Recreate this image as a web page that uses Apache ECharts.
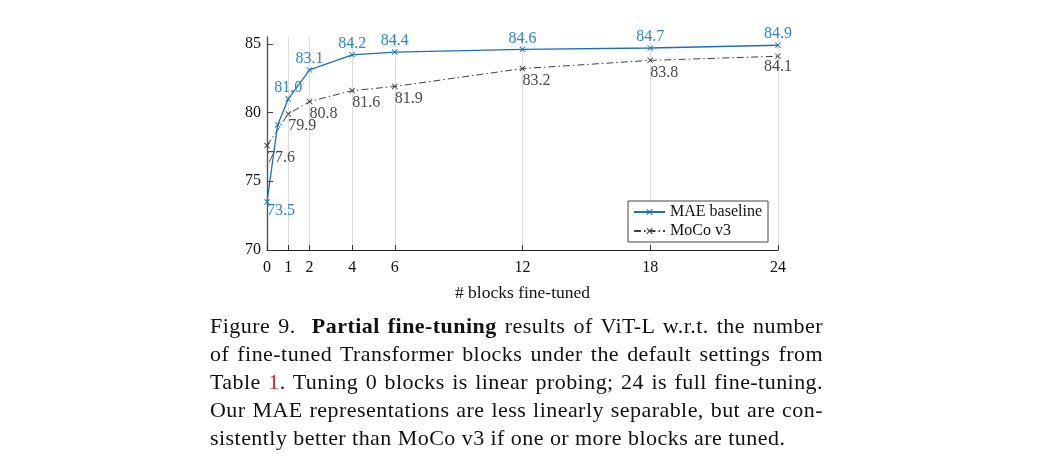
<!DOCTYPE html>
<html>
<head>
<meta charset="utf-8">
<script src="https://cdn.jsdelivr.net/npm/echarts@6/dist/echarts.min.js"></script>
<style>
  html, body { margin: 0; padding: 0; background: #fff; }
  #chart { position: absolute; left: 0; top: 0; width: 1058px; height: 467px; }
  #caption { position: absolute; left: 210px; top: 312px; width: 613px;
    font-family: 'Liberation Serif', serif; font-size: 22px; letter-spacing: 0.45px;
    line-height: 28px; color: #111; }
  #caption .l { text-align: justify; text-align-last: justify; }
  #caption .last { text-align: left; text-align-last: left; }
  #caption .ref { color: #e8202a; }
</style>
</head>
<body>
<div id="chart"></div>
<div id="caption">
  <div class="l">Figure 9.&nbsp; <b>Partial fine-tuning</b> results of ViT-L w.r.t. the number</div>
  <div class="l">of fine-tuned Transformer blocks under the default settings from</div>
  <div class="l">Table <span class="ref">1</span>. Tuning 0 blocks is linear probing; 24 is full fine-tuning.</div>
  <div class="l">Our MAE representations are less linearly separable, but are con-</div>
  <div class="l last">sistently better than MoCo v3 if one or more blocks are tuned.</div>
</div>
<script>
// ---- data ----
const xTicks = [0, 1, 2, 4, 6, 12, 18, 24];
const yTicks = [70, 75, 80, 85];
const maeBlocks = [0, 0.5, 1, 2, 4, 6, 12, 18, 24];
const maeValues = [73.5, 79.1, 81.0, 83.1, 84.2, 84.4, 84.6, 84.7, 84.9];
const mocoBlocks = [0, 1, 2, 4, 6, 12, 18, 24];
const mocoValues = [77.6, 79.9, 80.8, 81.6, 81.9, 83.2, 83.8, 84.1];
const seriesNames = ['MAE baseline', 'MoCo v3'];
const xAxisName = '# blocks fine-tuned';

// ---- styling ----
const blue = '#1a6fbf';
const blueLabel = '#2f84d2';
const gray = '#404040';
const grayLabel = '#4a4a4a';
const crossPath = 'path://M0,1 L1,0 L5,4 L9,0 L10,1 L6,5 L10,9 L9,10 L5,6 L1,10 L0,9 L4,5 Z';

const maeData = maeBlocks.map((b, i) => {
  const item = { value: [b, maeValues[i]] };
  if (!Number.isInteger(b)) {
    item.label = { show: false };
  } else if (i === 0) {
    item.label = { position: 'bottom', align: 'left', distance: -2 };
  }
  return item;
});
const mocoData = mocoBlocks.map((b, i) => {
  const item = { value: [b, mocoValues[i]] };
  if (i === mocoBlocks.length - 1) {
    item.label = { position: 'bottom', align: 'center', distance: 0 };
  }
  return item;
});

const chart = echarts.init(document.getElementById('chart'), null, { renderer: 'canvas' });
chart.setOption({
  animation: false,
  textStyle: { fontFamily: 'Liberation Serif' },
  grid: { left: 267, right: 280, top: 37, bottom: 217 },
  legend: {
    data: seriesNames,
    orient: 'vertical',
    right: 290,
    top: 201,
    backgroundColor: '#fff',
    borderColor: '#444',
    borderWidth: 1,
    borderRadius: 0,
    padding: [3, 6, 3, 5],
    itemGap: 3,
    itemWidth: 31,
    itemHeight: 8,
    textStyle: { fontSize: 16, color: '#111', fontFamily: 'Liberation Serif' }
  },
  xAxis: {
    type: 'value',
    min: 0,
    max: 24,
    name: xAxisName,
    nameLocation: 'middle',
    nameGap: 34,
    nameTextStyle: { fontSize: 17.5, color: '#111' },
    axisLine: { lineStyle: { color: '#222', width: 1.2 } },
    axisTick: { show: true, inside: true, length: 5, customValues: xTicks, lineStyle: { color: '#333' } },
    axisLabel: { customValues: xTicks, fontSize: 16, color: '#111', margin: 10 },
    splitLine: { show: true, lineStyle: { color: '#dcdcdc', width: 1 } }
  },
  yAxis: {
    type: 'value',
    min: 70,
    max: 85.5,
    axisLine: { show: true, lineStyle: { color: '#555', width: 1.4 } },
    axisTick: { show: true, inside: true, length: 6, customValues: yTicks, lineStyle: { color: '#444' } },
    axisLabel: { customValues: yTicks, fontSize: 16, color: '#111', margin: 6 },
    splitLine: { show: false }
  },
  series: [
    {
      name: seriesNames[0],
      type: 'line',
      data: maeData,
      symbol: crossPath,
      symbolSize: 6,
      showAllSymbol: true,
      z: 3,
      lineStyle: { color: blue, width: 1.3 },
      itemStyle: { color: blue },
      label: {
        show: true, position: 'top', distance: 0,
        fontSize: 16, color: blueLabel, fontFamily: 'Liberation Serif',
        formatter: p => p.value[1].toFixed(1)
      }
    },
    {
      name: seriesNames[1],
      type: 'line',
      data: mocoData,
      symbol: crossPath,
      symbolSize: 6,
      showAllSymbol: true,
      z: 2,
      lineStyle: { color: gray, width: 1, type: [7, 3, 1.5, 3] },
      itemStyle: { color: gray },
      label: {
        show: true, position: 'bottom', align: 'left', distance: 1,
        fontSize: 16, color: grayLabel, fontFamily: 'Liberation Serif',
        formatter: p => p.value[1].toFixed(1)
      }
    }
  ]
});
</script>
</body>
</html>
